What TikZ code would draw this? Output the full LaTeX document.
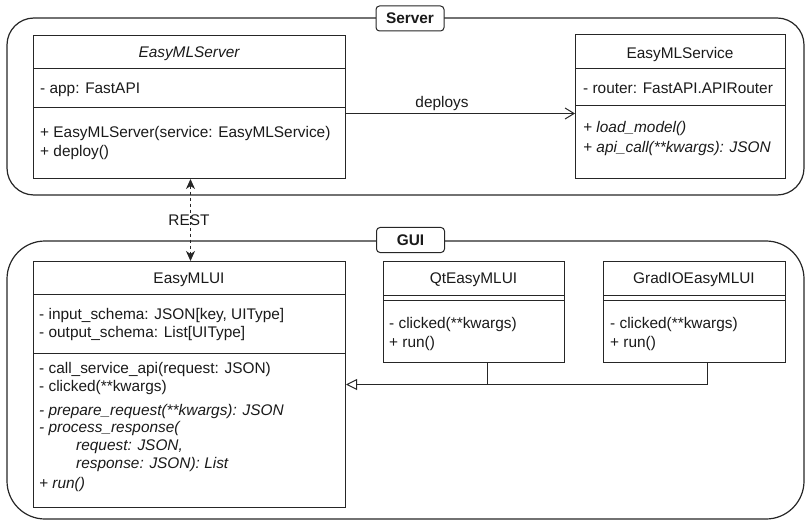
\documentclass[tikz,border=0pt]{standalone}
\usepackage{fontspec}
\setmainfont{Liberation Sans}
\usetikzlibrary{arrows.meta}
\definecolor{linec}{HTML}{262626}
\definecolor{textc}{HTML}{1A1A1A}
\begin{document}
\begin{tikzpicture}[x=1pt, y=-1pt,
  font=\fontsize{15.4}{18.5}\selectfont,
  container/.style={draw=linec, line width=1.2pt, inner sep=0pt},
  tag/.style={draw=linec, fill=white, line width=1pt, rounded corners=3.5pt, inner sep=0pt,
    minimum width=68pt, minimum height=25pt},
  tagtext/.style={inner sep=0pt, anchor=base, font=\fontsize{15.4}{18.5}\selectfont\bfseries, text=textc},
  classbox/.style={draw=linec, line width=1pt, fill=white, inner sep=0pt, anchor=north west},
  divider/.style={draw=linec, line width=1pt},
  txt/.style={inner sep=0pt, anchor=base west, text=textc},
  ttl/.style={inner sep=0pt, anchor=base, text=textc},
  assoc/.style={draw=linec, line width=1pt, -{Straight Barb[length=9pt, width=11pt]}},
  rest/.style={draw=linec, line width=1pt, dash pattern=on 3pt off 3pt,
    {Stealth[length=10pt, width=9pt, inset=3pt]}-{Stealth[length=10pt, width=9pt, inset=3pt]}},
  inherit/.style={draw=linec, line width=1pt, -{Triangle[open, length=11pt, width=11pt]}},
  plain/.style={draw=linec, line width=1pt}
]
\useasboundingbox (0,0) rectangle (805,521);

% package frames
\node[container, rounded corners=27pt, minimum width=797pt, minimum height=177pt] (srvgrp) at (405.5,106.5) {};
\node[container, rounded corners=38pt, minimum width=797pt, minimum height=278pt] (guigrp) at (405.5,380) {};
\node[tag] (srvtag) at (410,18.5) {};
\node[tagtext] (srvtagtext) at (410,24) {Server};
\node[tag] (guitag) at (410.5,240) {};
\node[tagtext] (guitagtext) at (410.5,245.5) {GUI};

% EasyMLServer
\node[classbox, minimum width=312pt, minimum height=143pt] (srv) at (33,35) {};
\draw[divider] (33,69) -- (345,69);
\draw[divider] (33,108) -- (345,108);
\node[ttl, font=\fontsize{15.4}{18.5}\selectfont\itshape] (srvname) at (189,57.5) {EasyMLServer};
\node[txt] (srva1) at (40,93.5) {- app: FastAPI};
\node[txt] (srvm1) at (40,137.5) {+ EasyMLServer(service: EasyMLService)};
\node[txt] (srvm2) at (40,156.5) {+ deploy()};

% EasyMLService
\node[classbox, minimum width=210pt, minimum height=144pt] (svc) at (575,34) {};
\draw[divider] (575,69) -- (785,69);
\draw[divider] (575,106) -- (785,106);
\node[ttl] (svcname) at (680,58.5) {EasyMLService};
\node[txt] (svca1) at (583,93.5) {- router: FastAPI.APIRouter};
\node[txt, font=\fontsize{15.4}{18.5}\selectfont\itshape] (svcm1) at (583,132.5) {+ load\_model()};
\node[txt, font=\fontsize{15.4}{18.5}\selectfont\itshape] (svcm2) at (583,152.5) {+ api\_call(**kwargs): JSON};

% EasyMLUI
\node[classbox, minimum width=312pt, minimum height=246pt] (ui) at (33,261) {};
\draw[divider] (33,294) -- (345,294);
\draw[divider] (33,353) -- (345,353);
\node[ttl] (uiname) at (189,283.5) {EasyMLUI};
\node[txt] (uia1) at (39,319.5) {- input\_schema: JSON[key, UIType]};
\node[txt] (uia2) at (39,337.5) {- output\_schema: List[UIType]};
\node[txt] (uim1) at (39,373.5) {- call\_service\_api(request: JSON)};
\node[txt] (uim2) at (39,391.5) {- clicked(**kwargs)};
\begin{scope}[font=\fontsize{15.4}{18.5}\selectfont\itshape]
\node[txt] (uim3) at (39,415.5) {- prepare\_request(**kwargs): JSON};
\node[txt] (uim4) at (39,432.5) {- process\_response(};
\node[txt] (uim5) at (76,450.5) {request: JSON,};
\node[txt] (uim6) at (76,468.5) {response: JSON): List};
\node[txt] (uim7) at (39,488.5) {+ run()};
\end{scope}

% QtEasyMLUI
\node[classbox, minimum width=181pt, minimum height=101pt] (qt) at (383,261) {};
\draw[divider] (383,295) -- (564,295);
\draw[divider] (383,300) -- (564,300);
\node[ttl] (qtname) at (473.5,283.5) {QtEasyMLUI};
\node[txt] (qtm1) at (389,328.5) {- clicked(**kwargs)};
\node[txt] (qtm2) at (389,347.5) {+ run()};

% GradIOEasyMLUI
\node[classbox, minimum width=182pt, minimum height=101pt] (gr) at (603,261) {};
\draw[divider] (603,295) -- (785,295);
\draw[divider] (603,300) -- (785,300);
\node[ttl] (grname) at (694,283.5) {GradIOEasyMLUI};
\node[txt] (grm1) at (610,328.5) {- clicked(**kwargs)};
\node[txt] (grm2) at (610,347.5) {+ run()};

% relations
\draw[assoc] ([yshift=-6.5pt]srv.east) -- ([yshift=-7pt]svc.west);
\node[ttl] (deploys) at (442,107.5) {deploys};

\draw[rest] ([xshift=1pt]srv.south) -- ([xshift=1pt]ui.north);
\node[ttl] (restlbl) at (189,225.5) {REST};

\coordinate (qtfoot) at ([xshift=13.5pt]qt.south);
\coordinate (grfoot) at ([xshift=13pt]gr.south);
\draw[inherit] (grfoot) |- (ui.east);
\draw[plain] (qtfoot) -- (qtfoot |- ui.east);
\end{tikzpicture}
\end{document}
